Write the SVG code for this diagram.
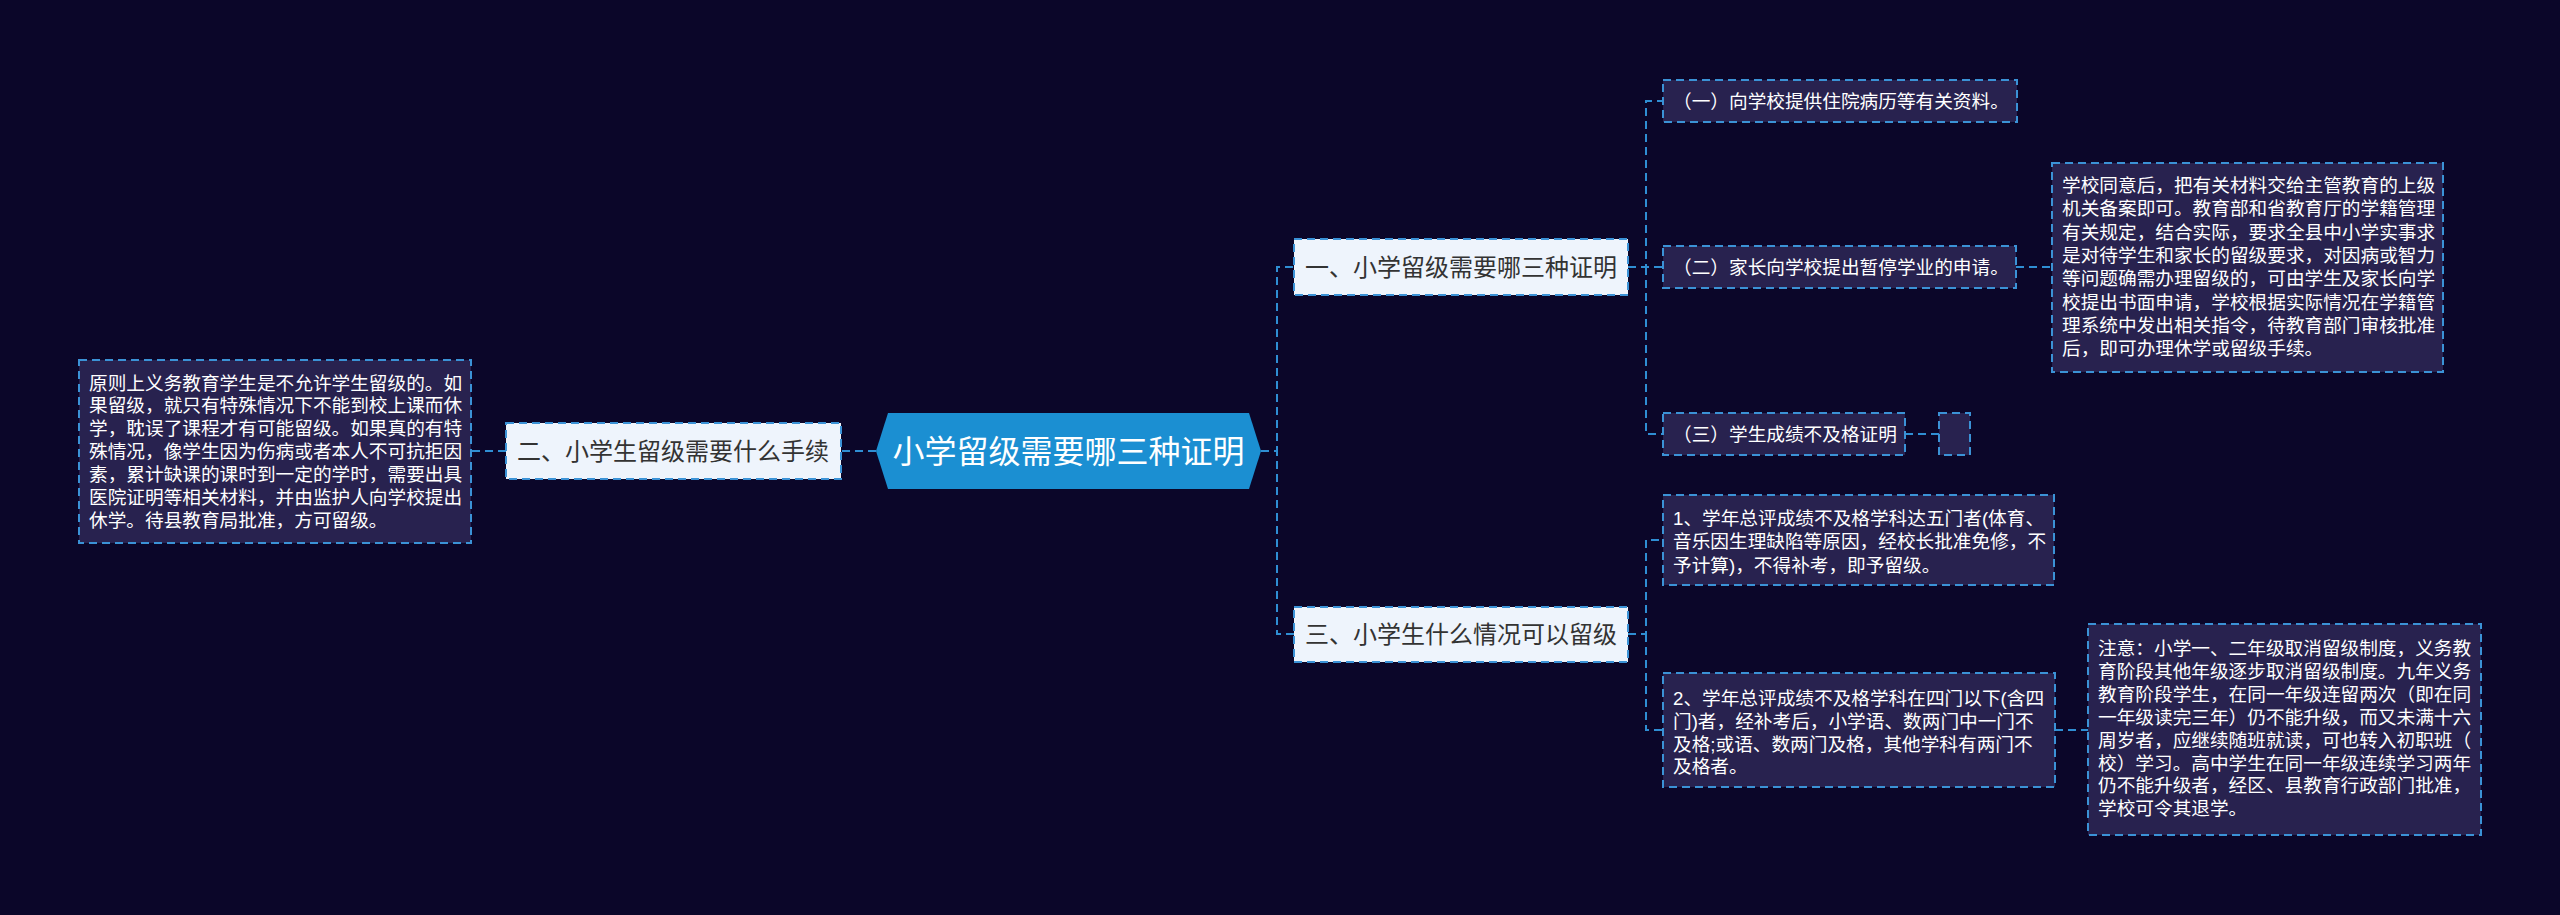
<svg xmlns="http://www.w3.org/2000/svg" width="2560" height="915" viewBox="0 0 2560 915">
<style>
.bg{fill:#0b0629}
.conn{fill:none;stroke:#2f8ed3;stroke-width:2;stroke-dasharray:8 5}
.leaf{fill:#28224f;stroke:#3b92d6;stroke-width:2;stroke-dasharray:8 5}
.branch{fill:#eef4fc;stroke:#3b92d6;stroke-width:2;stroke-dasharray:8 5}
.root{fill:#1b8fd2}
.t{font-family:"Liberation Sans","Noto Sans CJK SC",sans-serif}
.lt{font-size:18.67px;fill:#ffffff}
.bt{font-size:24px;fill:#333333;text-anchor:middle}
.rt{font-size:32px;fill:#ffffff;text-anchor:middle}
</style>
<rect class="bg" x="0" y="0" width="2560" height="915"/>
<g id="connectors">
<path class="conn" d="M876 451 H841"/>
<path class="conn" d="M506 451 H471"/>
<path class="conn" d="M1261 451 H1277 V267 H1294"/>
<path class="conn" d="M1261 451 H1277 V634 H1294"/>
<path class="conn" d="M1628 267 H1646 V101 H1663"/>
<path class="conn" d="M1628 267 H1663"/>
<path class="conn" d="M1646 267 V434 H1663"/>
<path class="conn" d="M2016 267 H2052"/>
<path class="conn" d="M1905 434 H1939"/>
<path class="conn" d="M1628 634 H1646 V540 H1663"/>
<path class="conn" d="M1646 634 V730 H1663"/>
<path class="conn" d="M2055 730 H2088"/>
</g>
<g id="root">
<polygon class="root" points="876,451 888,413 1249,413 1261,451 1249,489 888,489"/>
<text class="t rt" x="1068.5" y="463">小学留级需要哪三种证明</text>
</g>
<g id="branch2">
<rect class="branch" x="506" y="423" width="335" height="56"/>
<text class="t bt" x="673" y="460">二、小学生留级需要什么手续</text>
</g>
<g id="branch2-detail">
<rect class="leaf" x="79" y="360" width="392" height="183"/>
<text class="t lt" x="89" y="389.5">原则上义务教育学生是不允许学生留级的。如</text>
<text class="t lt" x="89" y="412.4">果留级，就只有特殊情况下不能到校上课而休</text>
<text class="t lt" x="89" y="435.3">学，耽误了课程才有可能留级。如果真的有特</text>
<text class="t lt" x="89" y="458.2">殊情况，像学生因为伤病或者本人不可抗拒因</text>
<text class="t lt" x="89" y="481.1">素，累计缺课的课时到一定的学时，需要出具</text>
<text class="t lt" x="89" y="504">医院证明等相关材料，并由监护人向学校提出</text>
<text class="t lt" x="89" y="526.9">休学。待县教育局批准，方可留级。</text>
</g>
<g id="branch1">
<rect class="branch" x="1294" y="239" width="334" height="56"/>
<text class="t bt" x="1461" y="276">一、小学留级需要哪三种证明</text>
</g>
<g id="leaf1-1">
<rect class="leaf" x="1663" y="80" width="354" height="42"/>
<text class="t lt" x="1673" y="107.5">（一）向学校提供住院病历等有关资料。</text>
</g>
<g id="leaf1-2">
<rect class="leaf" x="1663" y="246" width="353" height="42"/>
<text class="t lt" x="1673" y="273.5">（二）家长向学校提出暂停学业的申请。</text>
</g>
<g id="leaf1-2-detail">
<rect class="leaf" x="2052" y="163" width="391" height="209"/>
<text class="t lt" x="2062" y="192">学校同意后，把有关材料交给主管教育的上级</text>
<text class="t lt" x="2062" y="215.3">机关备案即可。教育部和省教育厅的学籍管理</text>
<text class="t lt" x="2062" y="238.6">有关规定，结合实际，要求全县中小学实事求</text>
<text class="t lt" x="2062" y="261.9">是对待学生和家长的留级要求，对因病或智力</text>
<text class="t lt" x="2062" y="285.2">等问题确需办理留级的，可由学生及家长向学</text>
<text class="t lt" x="2062" y="308.5">校提出书面申请，学校根据实际情况在学籍管</text>
<text class="t lt" x="2062" y="331.8">理系统中发出相关指令，待教育部门审核批准</text>
<text class="t lt" x="2062" y="355.1">后，即可办理休学或留级手续。</text>
</g>
<g id="leaf1-3">
<rect class="leaf" x="1663" y="413" width="242" height="42"/>
<text class="t lt" x="1673" y="440.5">（三）学生成绩不及格证明</text>
</g>
<g id="leaf1-3-detail">
<rect class="leaf" x="1939" y="413" width="31" height="42"/>
</g>
<g id="branch3">
<rect class="branch" x="1294" y="607" width="334" height="55"/>
<text class="t bt" x="1461" y="643">三、小学生什么情况可以留级</text>
</g>
<g id="leaf3-1">
<rect class="leaf" x="1663" y="495" width="391" height="90"/>
<text class="t lt" x="1673" y="525">1、学年总评成绩不及格学科达五门者(体育、</text>
<text class="t lt" x="1673" y="548.3">音乐因生理缺陷等原因，经校长批准免修，不</text>
<text class="t lt" x="1673" y="571.6">予计算)，不得补考，即予留级。</text>
</g>
<g id="leaf3-2">
<rect class="leaf" x="1663" y="673" width="392" height="114"/>
<text class="t lt" x="1673" y="705">2、学年总评成绩不及格学科在四门以下(含四</text>
<text class="t lt" x="1673" y="727.8">门)者，经补考后，小学语、数两门中一门不</text>
<text class="t lt" x="1673" y="750.6">及格;或语、数两门及格，其他学科有两门不</text>
<text class="t lt" x="1673" y="773.4">及格者。</text>
</g>
<g id="leaf3-2-detail">
<rect class="leaf" x="2088" y="624" width="393" height="211"/>
<text class="t lt" x="2098" y="655">注意：小学一、二年级取消留级制度，义务教</text>
<text class="t lt" x="2098" y="677.9">育阶段其他年级逐步取消留级制度。九年义务</text>
<text class="t lt" x="2098" y="700.8">教育阶段学生，在同一年级连留两次（即在同</text>
<text class="t lt" x="2098" y="723.7">一年级读完三年）仍不能升级，而又未满十六</text>
<text class="t lt" x="2098" y="746.6">周岁者，应继续随班就读，可也转入初职班（</text>
<text class="t lt" x="2098" y="769.5">校）学习。高中学生在同一年级连续学习两年</text>
<text class="t lt" x="2098" y="792.4">仍不能升级者，经区、县教育行政部门批准，</text>
<text class="t lt" x="2098" y="815.3">学校可令其退学。</text>
</g>
</svg>
